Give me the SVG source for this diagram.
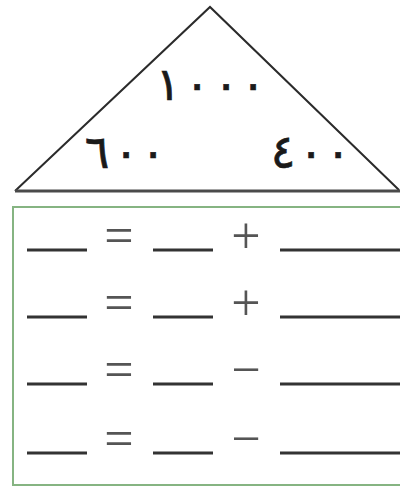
<svg xmlns="http://www.w3.org/2000/svg" width="400" height="487" viewBox="0 0 400 487">
<style>
.edge{fill:none;stroke:#2b2b2b;stroke-width:2;stroke-linejoin:miter}
.base{stroke:#4a4a4a;stroke-width:3}
.num{font-family:"DejaVu Sans","Noto Sans",sans-serif;font-size:46px;fill:#1a1a1a;stroke:#1a1a1a;stroke-width:0.7;text-anchor:middle}
.blank{stroke:#333;stroke-width:3}
.op{font-family:"Liberation Serif","DejaVu Serif",serif;font-size:52px;fill:#555;text-anchor:middle}
.box{fill:#fff;stroke:#86b482;stroke-width:2}
</style>
<rect width="400" height="487" fill="#fff"/>
<g id="triangle">
<polyline class="edge" points="15,191 210,7 399,190"/>
<line class="base" x1="15" y1="191" x2="400" y2="191"/>
<text class="num" x="168 197 226 253" y="100">١٠٠٠</text>
<text class="num" x="97 126 153" y="168">٦٠٠</text>
<text class="num" x="283 311 338" y="168">٤٠٠</text>
</g>
<g id="box">
<rect class="box" x="13" y="207" width="400" height="278"/>
</g>
<g id="row1">
<line class="blank" x1="27" y1="250" x2="87" y2="250"/>
<text class="op" x="119" y="253">=</text>
<line class="blank" x1="153" y1="250" x2="213" y2="250"/>
<text class="op" x="246" y="253">+</text>
<line class="blank" x1="280" y1="250" x2="400" y2="250"/>
</g>
<g id="row2">
<line class="blank" x1="27" y1="317" x2="87" y2="317"/>
<text class="op" x="119" y="320">=</text>
<line class="blank" x1="153" y1="317" x2="213" y2="317"/>
<text class="op" x="246" y="320">+</text>
<line class="blank" x1="280" y1="317" x2="400" y2="317"/>
</g>
<g id="row3">
<line class="blank" x1="27" y1="384" x2="87" y2="384"/>
<text class="op" x="119" y="387">=</text>
<line class="blank" x1="153" y1="384" x2="213" y2="384"/>
<text class="op" x="246" y="387">−</text>
<line class="blank" x1="280" y1="384" x2="400" y2="384"/>
</g>
<g id="row4">
<line class="blank" x1="27" y1="453" x2="87" y2="453"/>
<text class="op" x="119" y="456">=</text>
<line class="blank" x1="153" y1="453" x2="213" y2="453"/>
<text class="op" x="246" y="456">−</text>
<line class="blank" x1="280" y1="453" x2="400" y2="453"/>
</g>
</svg>
